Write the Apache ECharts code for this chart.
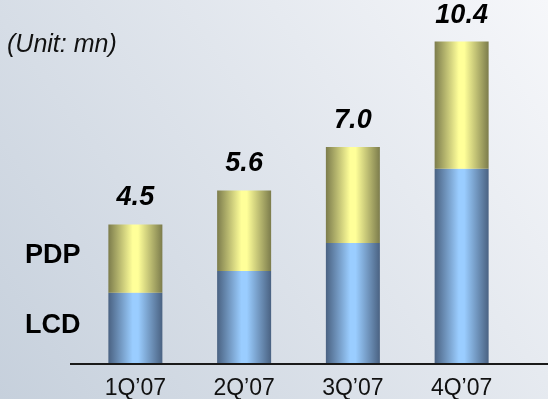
<!DOCTYPE html>
<html>
<head>
<meta charset="utf-8">
<script src="https://cdn.jsdelivr.net/npm/echarts@6/dist/echarts.min.js"></script>
<style>
  html, body { margin: 0; padding: 0; }
  #chart { width: 548px; height: 399px; }
</style>
</head>
<body>
<div id="chart"></div>
<script>
// Quarterly flat-panel shipments (millions), stacked LCD + PDP
const categories = ['1Q\u201907', '2Q\u201907', '3Q\u201907', '4Q\u201907'];
const lcdValues = [2.3, 3.0, 3.9, 6.3];
const pdpValues = [2.2, 2.6, 3.1, 4.1];
const totals = lcdValues.map((v, i) => +(v + pdpValues[i]).toFixed(1));

const FONT = '"Liberation Sans", Arial, sans-serif';

// Cylinder-like shading: dark edges, bright centre
function shade(edge, centre) {
  return new echarts.graphic.LinearGradient(0, 0, 1, 0, [
    { offset: 0, color: edge },
    { offset: 0.45, color: centre },
    { offset: 0.55, color: centre },
    { offset: 1, color: edge }
  ]);
}

const chart = echarts.init(document.getElementById('chart'), null, { renderer: 'canvas' });

chart.setOption({
  animation: false,
  backgroundColor: new echarts.graphic.LinearGradient(0, 1, 1, 0, [
    { offset: 0, color: '#c6d0dc' },
    { offset: 1, color: '#f6f7fa' }
  ]),
  grid: { left: 81, right: 32, top: 23, bottom: 35, containLabel: false, outerBoundsMode: 'none' },
  xAxis: {
    type: 'category',
    data: categories,
    axisLine: { show: false },
    axisTick: { show: false },
    axisLabel: { color: '#111', fontFamily: FONT, fontSize: 23, margin: 13 }
  },
  yAxis: {
    type: 'value',
    min: 0,
    max: 11,
    show: false,
    splitLine: { show: false }
  },
  series: [
    {
      name: 'LCD',
      type: 'bar',
      stack: 'total',
      barWidth: 54,
      data: lcdValues,
      itemStyle: { color: shade('#4a6282', '#9acdff') }
    },
    {
      name: 'PDP',
      type: 'bar',
      stack: 'total',
      barWidth: 54,
      data: pdpValues,
      itemStyle: { color: shade('#7c7c4c', '#ffff99') },
      label: {
        show: true,
        position: 'top',
        distance: 13,
        formatter: p => totals[p.dataIndex].toFixed(1),
        color: '#000',
        fontFamily: FONT,
        fontSize: 27,
        fontWeight: 'bold',
        fontStyle: 'italic'
      }
    }
  ],
  graphic: [
    {
      type: 'line',
      shape: { x1: 70, y1: 364, x2: 548, y2: 364 },
      style: { stroke: '#1a1a1a', lineWidth: 2 },
      z: 10
    },
    {
      type: 'text',
      left: 7,
      top: 33,
      style: { text: '(Unit: mn)', font: 'italic 25px ' + FONT, fill: '#111' }
    },
    {
      type: 'text',
      left: 25,
      top: 242,
      style: { text: 'PDP', font: 'bold 27px ' + FONT, fill: '#000' }
    },
    {
      type: 'text',
      left: 25,
      top: 312,
      style: { text: 'LCD', font: 'bold 27px ' + FONT, fill: '#000' }
    }
  ]
});
</script>
</body>
</html>
